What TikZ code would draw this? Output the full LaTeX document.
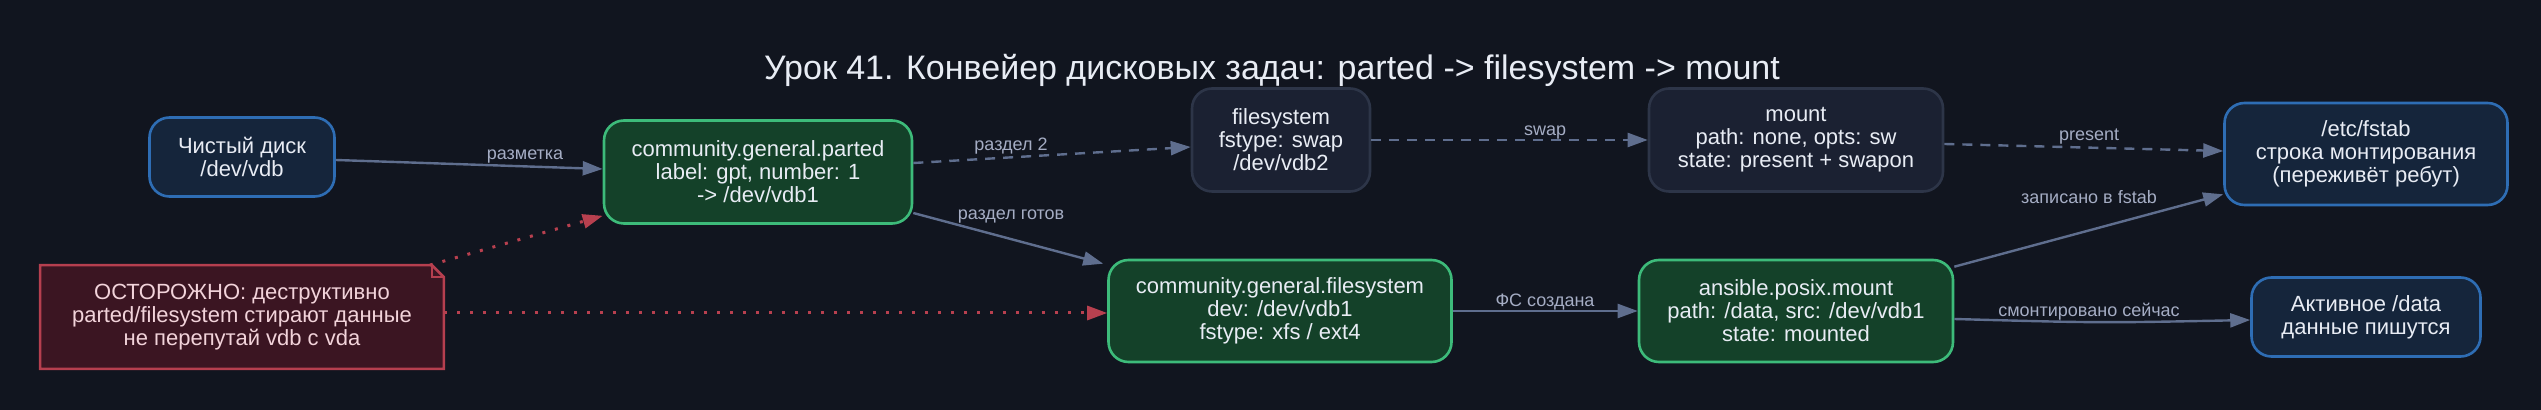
\documentclass[tikz,border=0pt]{standalone}
\usepackage{fontspec}
\setmainfont{Liberation Sans}
\usetikzlibrary{arrows.meta,calc}
\definecolor{bg}{HTML}{11151F}
\definecolor{bluefill}{HTML}{15253B}
\definecolor{blueline}{HTML}{2E6DB4}
\definecolor{greenfill}{HTML}{144129}
\definecolor{greenline}{HTML}{3DBB7A}
\definecolor{grayfill}{HTML}{1B2132}
\definecolor{grayline}{HTML}{2D3548}
\definecolor{notefill}{HTML}{3B1522}
\definecolor{noteline}{HTML}{B53F4F}
\definecolor{notetext}{HTML}{F2D3DA}
\definecolor{nodetext}{HTML}{E8ECF4}
\definecolor{edgecol}{HTML}{5F6E8E}
\definecolor{lblcol}{HTML}{A5ADC4}
\definecolor{redarrow}{HTML}{B8404F}
\begin{document}
\begin{tikzpicture}[x=0.5pt,y=-0.5pt,
  box/.style={rounded corners=10pt, line width=1.3pt, align=center,
    font=\fontsize{11}{11.5}\selectfont, text=nodetext, inner sep=0pt},
  bluebox/.style={box, fill=bluefill, draw=blueline},
  greenbox/.style={box, fill=greenfill, draw=greenline},
  graybox/.style={box, fill=grayfill, draw=grayline},
  notebox/.style={align=center, font=\fontsize{11}{11.5}\selectfont, text=notetext, inner sep=0pt},
  conn/.style={draw=edgecol, line width=1.2pt, -{Triangle[length=10pt,width=7pt]}},
  dconn/.style={conn, dash pattern=on 5pt off 4pt},
  rconn/.style={draw=redarrow, line width=1.5pt, dash pattern=on 1.5pt off 5pt,
    -{Triangle[length=10pt,width=7pt,fill=redarrow]}},
  lbl/.style={font=\fontsize{9}{10}\selectfont, text=lblcol, inner sep=0pt},
  title/.style={font=\fontsize{17}{19}\selectfont, text=nodetext}
]
\fill[bg] (0,0) rectangle (2541,410);
\useasboundingbox (0,0) rectangle (2541,410);

\node[title] (title) at (1272,70) {Урок 41. Конвейер дисковых задач: parted -> filesystem -> mount};

\node[bluebox, minimum width=92.5pt, minimum height=39.5pt] (disk) at (242,157) {Чистый диск\\/dev/vdb};
\node[greenbox, minimum width=154pt, minimum height=51.5pt] (parted) at (758,172) {community.general.parted\\label: gpt, number: 1\\-> /dev/vdb1};
\node[notebox, minimum width=201.5pt, minimum height=51.5pt] (note) at (242,317) {};
\node[graybox, minimum width=89pt, minimum height=51.5pt] (swapfs) at (1281,140) {filesystem\\fstype: swap\\/dev/vdb2};
\node[greenbox, minimum width=171.5pt, minimum height=51pt] (fs) at (1280,311) {community.general.filesystem\\dev: /dev/vdb1\\fstype: xfs / ext4};
\node[graybox, minimum width=147pt, minimum height=51.5pt] (mountswap) at (1796,140) {mount\\path: none, opts: sw\\state: present + swapon};
\node[greenbox, minimum width=157pt, minimum height=51pt] (amount) at (1796,311) {ansible.posix.mount\\path: /data, src: /dev/vdb1\\state: mounted};
\node[bluebox, minimum width=141.5pt, minimum height=51pt] (fstab) at (2366,154) {/etc/fstab\\строка монтирования\\(переживёт ребут)};
\node[bluebox, minimum width=114.5pt, minimum height=39.5pt] (active) at (2366,317) {Активное /data\\данные пишутся};

% note outline with folded corner
\filldraw[fill=notefill, draw=noteline, line width=1.3pt]
  (note.north west) -- ([xshift=-6pt]note.north east) -- ([yshift=-6pt]note.north east)
  -- (note.south east) -- (note.south west) -- cycle;
\draw[noteline, line width=1.3pt] ([xshift=-6pt]note.north east) -- ([xshift=-6pt,yshift=-6pt]note.north east) -- ([yshift=-6pt]note.north east);
\node[notebox] (notetxt) at (note.center) {ОСТОРОЖНО: деструктивно\\parted/filesystem стирают данные\\не перепутай vdb с vda};

% connectors
\draw[conn] ([yshift=-1.5pt]disk.east) -- ([yshift=1.5pt]parted.west)
  node[lbl, at={(525,157)}] {разметка};
\draw[dconn] ([yshift=4.5pt]parted.east) -- ([yshift=-3.5pt]swapfs.west)
  node[lbl, at={(1011,146)}] {раздел 2};
\draw[conn] ([yshift=-20.5pt]parted.east) -- ([xshift=-2pt,yshift=-2.5pt]fs.north west)
  node[lbl, at={(1011,217)}] {раздел готов};
\draw[rconn] ([xshift=-7pt]note.north east) -- ([yshift=4.5pt]parted.south west);
\draw[rconn] ([yshift=2pt]note.east) -- ([yshift=-1pt]fs.west);
\draw[dconn] (swapfs.east) -- (mountswap.west)
  node[lbl, at={(1545,133)}] {swap};
\draw[dconn] ([yshift=-2pt]mountswap.east) -- ([yshift=1.5pt]fstab.west)
  node[lbl, at={(2089,137)}] {present};
\draw[conn] (fs.east) -- (amount.west)
  node[lbl, at={(1545,302)}] {ФС создана};
\draw[conn] ([yshift=-4pt]amount.north east) -- ([yshift=6pt]fstab.south west)
  node[lbl, at={(2089,197)}] {записано в fstab};
\draw[conn] ([yshift=-4pt]amount.east) .. controls (2100,323) .. ([yshift=-1.5pt]active.west)
  node[lbl, at={(2089,312)}] {смонтировано сейчас};
\end{tikzpicture}
\end{document}
